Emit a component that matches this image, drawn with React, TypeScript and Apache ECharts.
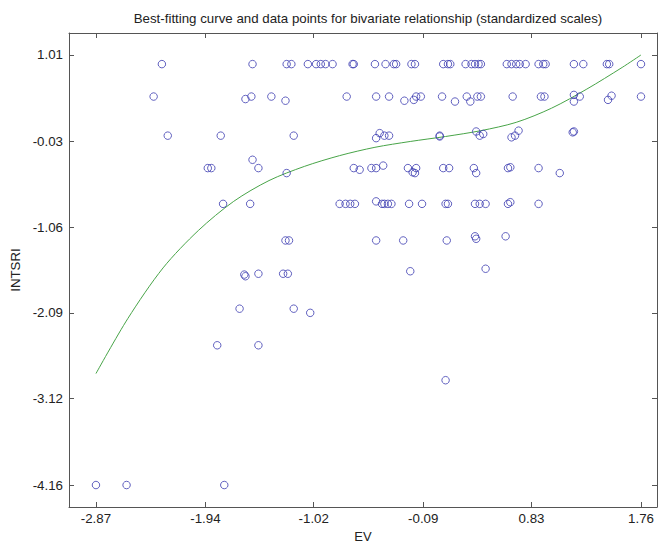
import React, { useEffect, useRef } from "react";
import * as echarts from "echarts";

// Scatter points (EV, INTSRI), listed row by row
const pointEV = [
  // row ~0.90
  -2.31, -1.54, -1.25, -1.21, -1.07, -1.0, -0.96, -0.92, -0.86, -0.69, -0.68, -0.5, -0.41, -0.34, -0.32, -0.19, -0.16,
  0.08, 0.12, 0.14, 0.27, 0.32, 0.35, 0.38, 0.4, 0.62, 0.66, 0.7, 0.73, 0.78, 0.89, 0.93, 0.95, 1.19, 1.27, 1.47, 1.49, 1.76,
  // row ~0.51
  -2.38, -1.6, -1.55, -1.38, -1.26, -0.74, -0.49, -0.38, -0.25, -0.17, -0.15, -0.11, 0.07, 0.18, 0.28, 0.31, 0.37, 0.4,
  0.67, 0.91, 0.94, 1.19, 1.19, 1.24, 1.48, 1.51, 1.76,
  // row ~0.04
  -2.26, -1.81, -1.19, -0.49, -0.46, -0.42, -0.38, 0.05, 0.05, 0.36, 0.39, 0.42, 0.66, 0.69, 0.72, 1.19, 1.18,
  // row ~-0.35
  -1.92, -1.89, -1.54, -1.49, -1.25, -0.68, -0.63, -0.53, -0.49, -0.43, -0.22, -0.18, -0.16, -0.15, 0.08, 0.13, 0.34,
  0.36, 0.63, 0.65, 0.89, 1.07,
  // row ~-0.78
  -1.79, -1.56, -0.8, -0.75, -0.71, -0.67, -0.49, -0.44, -0.42, -0.39, -0.36, -0.21, -0.1, 0.1, 0.12, 0.35, 0.39, 0.44,
  0.63, 0.65, 0.89,
  // row ~-1.22
  -1.26, -1.23, -0.49, -0.26, 0.11, 0.35, 0.36, 0.61,
  // row ~-1.62
  -1.6, -1.61, -1.49, -1.28, -1.24, -0.2, 0.44,
  // row ~-2.04
  -1.65, -1.19, -1.05,
  // row ~-2.48
  -1.84, -1.49,
  // row ~-2.90
  0.1,
  // row -4.16
  -2.87, -2.61, -1.78,
];

const pointINTSRI = [
  0.9, 0.9, 0.9, 0.9, 0.9, 0.9, 0.9, 0.9, 0.9, 0.9, 0.9, 0.9, 0.9, 0.9, 0.9, 0.9, 0.9,
  0.9, 0.9, 0.9, 0.9, 0.9, 0.9, 0.9, 0.9, 0.9, 0.9, 0.9, 0.9, 0.9, 0.9, 0.9, 0.9, 0.9, 0.9, 0.9, 0.9, 0.9,
  0.51, 0.48, 0.51, 0.51, 0.46, 0.51, 0.51, 0.51, 0.46, 0.47, 0.51, 0.51, 0.51, 0.45, 0.51, 0.45, 0.51, 0.51,
  0.51, 0.51, 0.51, 0.53, 0.45, 0.51, 0.47, 0.52, 0.51,
  0.04, 0.04, 0.04, 0.01, 0.07, 0.04, 0.04, 0.04, 0.03, 0.09, 0.04, 0.06, 0.02, 0.04, 0.1, 0.09, 0.08,
  -0.35, -0.35, -0.25, -0.35, -0.41, -0.35, -0.37, -0.35, -0.35, -0.32, -0.35, -0.4, -0.41, -0.35, -0.35, -0.35, -0.35,
  -0.41, -0.35, -0.34, -0.35, -0.41,
  -0.78, -0.78, -0.78, -0.78, -0.78, -0.78, -0.75, -0.78, -0.78, -0.78, -0.78, -0.78, -0.78, -0.78, -0.78, -0.78, -0.78, -0.78,
  -0.78, -0.76, -0.78,
  -1.22, -1.22, -1.22, -1.22, -1.22, -1.17, -1.2, -1.17,
  -1.65, -1.63, -1.62, -1.62, -1.62, -1.59, -1.56,
  -2.04, -2.04, -2.09,
  -2.48, -2.48,
  -2.9,
  -4.16, -4.16, -4.16,
];

// Best-fitting curve
const curveEV = [-2.87, -2.6, -2.3, -2.0, -1.7, -1.4, -1.1, -0.8, -0.5, -0.2, 0.1, 0.4, 0.7, 1.0, 1.3, 1.6, 1.76];
const curveINTSRI = [-2.82, -2.16, -1.55, -1.1, -0.75, -0.5, -0.33, -0.2, -0.1, -0.03, 0.03, 0.1, 0.2, 0.37, 0.6, 0.86, 1.01];

const xTicks = [-2.87, -1.94, -1.02, -0.09, 0.83, 1.76];
const yTicks = [-4.16, -3.12, -2.09, -1.06, -0.03, 1.01];

const TITLE = "Best-fitting curve and data points for bivariate relationship (standardized scales)";
const FONT = "'Liberation Sans', Arial, Helvetica, sans-serif";
const FONT_SIZE = 13.3;
const AXIS_COLOR = "#555555";
const TEXT_COLOR = "#222222";

export default function App() {
  const ref = useRef<HTMLDivElement>(null);

  useEffect(() => {
    if (!ref.current) return;
    const chart = echarts.init(ref.current, undefined, { renderer: "svg" });

    const xMin = -3.099;
    const xMax = 1.896;
    const yMin = -4.424;
    const yMax = 1.274;

    const tick = (vals: number[]) => ({
      show: true,
      inside: true,
      length: 5,
      customValues: vals,
      lineStyle: { color: AXIS_COLOR, width: 1 },
    });

    const scatterData = pointEV.map((x, i) => [x, pointINTSRI[i]]);
    const curveData = curveEV.map((x, i) => [x, curveINTSRI[i]]);

    chart.setOption({
      animation: false,
      backgroundColor: "#ffffff",
      title: {
        text: TITLE,
        left: 363,
        top: 7,
        textAlign: "center",
        textStyle: { fontFamily: FONT, fontSize: FONT_SIZE, fontWeight: "normal", color: TEXT_COLOR },
      },
      grid: {
        left: 69,
        right: 1,
        top: 33,
        bottom: 36,
        show: false,
        containLabel: false,
        outerBoundsMode: "none",
      },
      xAxis: [
        {
          type: "value",
          min: xMin,
          max: xMax,
          position: "bottom",
          name: "EV",
          nameLocation: "middle",
          nameGap: 20,
          nameTextStyle: { fontFamily: FONT, fontSize: 13, color: TEXT_COLOR },
          axisLine: { show: true, onZero: false, lineStyle: { color: AXIS_COLOR, width: 1 } },
          axisTick: tick(xTicks),
          axisLabel: {
            customValues: xTicks,
            formatter: (v: number) => v.toFixed(2),
            margin: 5,
            fontFamily: FONT,
            fontSize: FONT_SIZE,
            color: TEXT_COLOR,
            showMinLabel: true,
            showMaxLabel: true,
          },
          splitLine: { show: false },
        },
        {
          type: "value",
          min: xMin,
          max: xMax,
          position: "top",
          axisLine: { show: true, onZero: false, lineStyle: { color: AXIS_COLOR, width: 1 } },
          axisTick: tick(xTicks),
          axisLabel: { show: false },
          splitLine: { show: false },
        },
      ],
      yAxis: [
        {
          type: "value",
          min: yMin,
          max: yMax,
          position: "left",
          name: "INTSRI",
          nameLocation: "middle",
          nameGap: 45,
          nameTextStyle: { fontFamily: FONT, fontSize: FONT_SIZE, color: TEXT_COLOR },
          axisLine: { show: true, onZero: false, lineStyle: { color: AXIS_COLOR, width: 1 } },
          axisTick: tick(yTicks),
          axisLabel: {
            customValues: yTicks,
            formatter: (v: number) => v.toFixed(2),
            margin: 6,
            fontFamily: FONT,
            fontSize: FONT_SIZE,
            color: TEXT_COLOR,
            showMinLabel: true,
            showMaxLabel: true,
          },
          splitLine: { show: false },
        },
        {
          type: "value",
          min: yMin,
          max: yMax,
          position: "right",
          axisLine: { show: true, onZero: false, lineStyle: { color: AXIS_COLOR, width: 1 } },
          axisTick: tick(yTicks),
          axisLabel: { show: false },
          splitLine: { show: false },
        },
      ],
      series: [
        {
          type: "scatter",
          xAxisIndex: 0,
          yAxisIndex: 0,
          data: scatterData,
          symbol: "circle",
          symbolSize: 7.5,
          itemStyle: { color: "rgba(0,0,0,0)", borderColor: "#3b3bb0", borderWidth: 1 },
          emphasis: { disabled: true },
          z: 3,
        },
        {
          type: "line",
          xAxisIndex: 0,
          yAxisIndex: 0,
          data: curveData,
          smooth: 0.3,
          showSymbol: false,
          symbol: "none",
          lineStyle: { color: "#48a448", width: 1 },
          emphasis: { disabled: true },
          z: 2,
        },
      ],
    });

    return () => {
      chart.dispose();
    };
  }, []);

  return (
    <div
      ref={ref}
      style={{ position: "fixed", left: 0, top: 0, width: 658, height: 543, background: "#fff" }}
    />
  );
}
